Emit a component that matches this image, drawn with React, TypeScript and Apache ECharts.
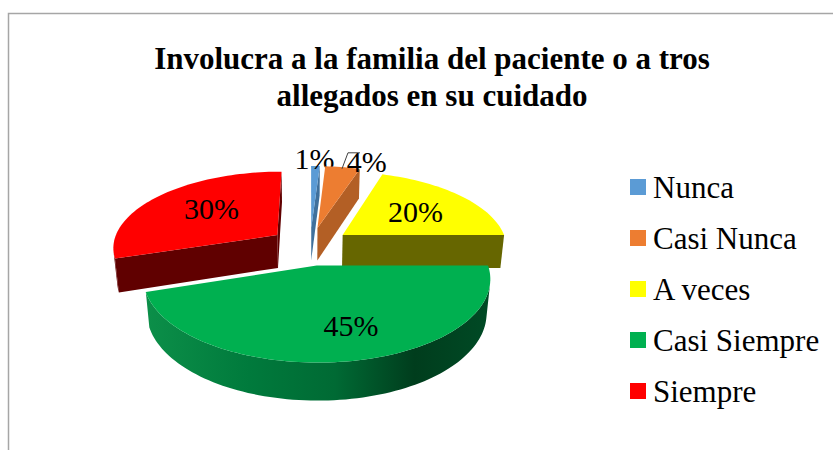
import React, { useEffect, useRef } from "react";
import * as echarts from "echarts";

const titleText = "Involucra a la familia del paciente o a tros\nallegados en su cuidado";
const categories = ["Nunca", "Casi Nunca", "A veces", "Casi Siempre", "Siempre"];
const values = [1, 4, 20, 45, 30];
const topColors = ["#5b9bd5", "#ed7d31", "#ffff00", "#00b050", "#ff0000"];
const sideColors = ["#3f709c", "#b35f25", "#666600", "#00502a", "#600000"];
const drawOrder = [0, 1, 2, 4, 3];
// label placement relative to each slice's mid-angle: radius fraction, then pixel nudge
const labelRadius = [1.0, 1.0, 0.6, 0.6, 0.6];
const labelNudge = [[-1, -8], [24, -6], [0, 1], [16, 7], [7, -2]];

const TOTAL = values.reduce((a, b) => a + b, 0);
const CX = 310, CY = 246, RX = 165, RY = 76, DEPTH = 34;
const PERSP = 0.15, PERSP_Z = 0.02, EXPLODE = 0.25;

function project(u: number, v: number, z: number): number[] {
  const s = 1 / (1 + PERSP * v + PERSP_Z * z);
  return [CX + s * RX * u, CY - s * RY * v + s * DEPTH * z];
}
function area(p: number[][]): number {
  let a = 0;
  for (let i = 0; i < p.length; i++) {
    const q = p[(i + 1) % p.length];
    a += p[i][0] * q[1] - q[0] * p[i][1];
  }
  return a / 2;
}

const greenSide = new echarts.graphic.LinearGradient(0, 0, 1, 0, [
  { offset: 0, color: "#0c8f49" },
  { offset: 0.3, color: "#007a3c" },
  { offset: 0.55, color: "#006a34" },
  { offset: 0.78, color: "#003d1d" },
  { offset: 1, color: "#004a25" },
]);

function renderSlice(idx: number) {
  return (params: any, api: any) => {
    const before = values.slice(0, idx).reduce((a, b) => a + b, 0);
    const a0 = (before / TOTAL) * Math.PI * 2;
    const a1 = a0 + (api.value(0) / TOTAL) * Math.PI * 2;
    const mid = (a0 + a1) / 2;
    const ox = EXPLODE * Math.sin(mid), oy = EXPLODE * Math.cos(mid);
    const rim = (t: number) => [ox + Math.sin(t), oy + Math.cos(t)];
    const steps = Math.max(4, Math.ceil((a1 - a0) / 0.03));
    const rimPts: number[][] = [];
    for (let i = 0; i <= steps; i++) rimPts.push(rim(a0 + ((a1 - a0) * i) / steps));

    const fillSide = idx === 3 ? greenSide : sideColors[idx];
    const children: any[] = [];
    const wall = (points: number[][], fill: any) =>
      children.push({ type: "polygon", shape: { points }, style: { fill, stroke: "none" } });
    const apex = [ox, oy];
    const quad = (p: number[], q: number[]) => [
      project(p[0], p[1], 0), project(q[0], q[1], 0), project(q[0], q[1], 1), project(p[0], p[1], 1),
    ];
    // cut faces: visible only when they face the viewer
    const q1 = quad(apex, rimPts[0]);
    if (area(q1) < 0) wall(q1, sideColors[idx]);
    const q2 = quad(rimPts[steps], apex);
    if (area(q2) < 0) wall(q2, sideColors[idx]);
    // outer wall, front-facing run only
    const run: number[][] = [];
    for (let i = 0; i < steps; i++) {
      if (area(quad(rimPts[i], rimPts[i + 1])) < 0) {
        if (!run.length) run.push(rimPts[i]);
        run.push(rimPts[i + 1]);
      }
    }
    if (run.length > 1) {
      const top = run.map((p) => project(p[0], p[1], 0));
      const bot = run.map((p) => project(p[0], p[1], 1)).reverse();
      wall(top.concat(bot), fillSide);
    }
    const topFace = [project(apex[0], apex[1], 0), ...rimPts.map((p) => project(p[0], p[1], 0))];
    children.push({ type: "polygon", shape: { points: topFace }, style: { fill: topColors[idx] } });

    const rho = labelRadius[idx];
    const lp = project(ox + rho * Math.sin(mid), oy + rho * Math.cos(mid), 0);
    children.push({
      type: "text",
      z2: 10,
      style: {
        x: lp[0] + labelNudge[idx][0],
        y: lp[1] + labelNudge[idx][1],
        text: Math.round((api.value(0) / TOTAL) * 100) + "%",
        fill: "#000000",
        font: '30px "Liberation Serif"',
        align: "center",
        verticalAlign: "middle",
      },
    });
    if (idx === 1) {
      const e = project(ox + 0.35 * Math.sin(mid) + 0.62 * Math.sin(mid), oy + 0.97 * Math.cos(mid), 0);
      children.push({
        type: "polyline",
        z2: 9,
        shape: { points: [[e[0], e[1]], [e[0] + 6, e[1] - 16], [e[0] + 18, e[1] - 16]] },
        style: { fill: "none", stroke: "#404040", lineWidth: 1 },
      });
    }
    return { type: "group", children };
  };
}

export default function App() {
  const ref = useRef<HTMLDivElement>(null);
  useEffect(() => {
    const chart = echarts.init(ref.current!, null, { renderer: "svg" });
    chart.setOption({
      animation: false,
      backgroundColor: "#ffffff",
      color: topColors,
      title: {
        text: titleText,
        left: 427,
        top: 35,
        textAlign: "center",
        textStyle: {
          fontFamily: "Liberation Serif",
          fontSize: 31,
          fontWeight: "bold",
          lineHeight: 37,
          color: "#000000",
        },
      },
      legend: {
        orient: "vertical",
        left: 625,
        top: 166,
        icon: "rect",
        itemWidth: 16,
        itemHeight: 16,
        itemGap: 19,
        selectedMode: false,
        data: categories,
        textStyle: {
          fontFamily: "Liberation Serif",
          fontSize: 31,
          lineHeight: 32,
          color: "#000000",
          padding: [0, 0, 0, 2],
        },
      },
      graphic: [
        {
          type: "polyline",
          shape: { points: [[8.5, 450], [8.5, 13.5], [833, 13.5]] },
          style: { fill: "none", stroke: "#a6a6a6", lineWidth: 1.5 },
        },
      ],
      series: categories.map((name, i) => ({
        type: "custom",
        name,
        coordinateSystem: "none",
        z: 2 + drawOrder.indexOf(i),
        data: [[values[i]]],
        itemStyle: { color: topColors[i] },
        renderItem: renderSlice(i),
      })),
    });
    return () => chart.dispose();
  }, []);
  return <div ref={ref} style={{ position: "absolute", left: 0, top: 0, width: 833, height: 450 }} />;
}
